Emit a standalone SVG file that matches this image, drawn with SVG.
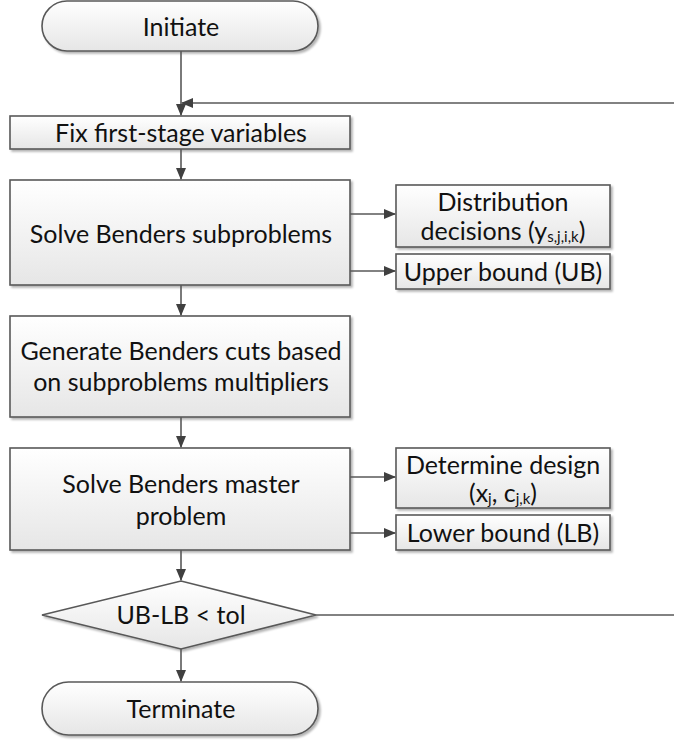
<svg xmlns="http://www.w3.org/2000/svg" width="674" height="752" viewBox="0 0 674 752">
<defs>
<linearGradient id="g" x1="0" y1="0" x2="0" y2="1">
<stop offset="0" stop-color="#ffffff"/>
<stop offset="1" stop-color="#e6e6e6"/>
</linearGradient>
<filter id="sh" x="-5%" y="-5%" width="115%" height="125%">
<feGaussianBlur in="SourceAlpha" stdDeviation="1.2"/>
<feOffset dx="2" dy="2" result="b"/>
<feComponentTransfer><feFuncA type="linear" slope="0.3"/></feComponentTransfer>
<feMerge><feMergeNode/><feMergeNode in="SourceGraphic"/></feMerge>
</filter>
<marker id="ah" markerWidth="12" markerHeight="10" refX="11" refY="5" orient="auto" markerUnits="userSpaceOnUse">
<path d="M0,0 L12,5 L0,10 Z" fill="#404040"/>
</marker>
</defs>
<style>
.box{fill:url(#g);stroke:#595959;stroke-width:1.6;filter:url(#sh)}
.t{font-family:Lato,"Open Sans","Liberation Sans",sans-serif;font-size:25px;fill:#111;text-anchor:middle;dominant-baseline:central}
.c{stroke:#595959;stroke-width:1.6;fill:none}
.s{font-size:15px}
</style>
<g id="initiate"><rect class="box" x="42" y="1" width="276" height="50" rx="25"/><text class="t" x="181" y="26">Initiate</text></g>
<g id="fix"><rect class="box" x="10" y="116" width="340" height="33"/><text class="t" x="181" y="132">Fix first-stage variables</text></g>
<g id="sub"><rect class="box" x="10" y="180" width="340" height="105"/><text class="t" x="181" y="233">Solve Benders subproblems</text></g>
<g id="dist"><rect class="box" x="396" y="185" width="214" height="62"/><text class="t" x="503" y="201">Distribution</text><text class="t" x="503" y="230">decisions (y<tspan class="s" dy="6">s,j,i,k</tspan><tspan dy="-6">)</tspan></text></g>
<g id="ub"><rect class="box" x="396" y="254" width="214" height="35"/><text class="t" x="503" y="271">Upper bound (UB)</text></g>
<g id="gen"><rect class="box" x="10" y="316" width="340" height="101"/><text class="t" x="181" y="350">Generate Benders cuts based</text><text class="t" x="181" y="381">on subproblems multipliers</text></g>
<g id="master"><rect class="box" x="10" y="448" width="340" height="102"/><text class="t" x="181" y="483">Solve Benders master</text><text class="t" x="181" y="515">problem</text></g>
<g id="design"><rect class="box" x="396" y="448" width="214" height="60"/><text class="t" x="503" y="464">Determine design</text><text class="t" x="503" y="492">(x<tspan class="s" dy="6">j</tspan><tspan dy="-6">, c</tspan><tspan class="s" dy="6">j,k</tspan><tspan dy="-6">)</tspan></text></g>
<g id="lb"><rect class="box" x="396" y="515" width="214" height="35"/><text class="t" x="503" y="532">Lower bound (LB)</text></g>
<g id="dec"><polygon class="box" points="42,615 181,581 316,615 181,649"/><text class="t" x="181" y="614">UB-LB &lt; tol</text></g>
<g id="term"><rect class="box" x="42" y="682" width="276" height="53" rx="26.5"/><text class="t" x="181" y="708">Terminate</text></g>
<g id="connectors">
<path class="c" d="M181,51 V115" marker-end="url(#ah)"/>
<path class="c" d="M674,103 H182" marker-end="url(#ah)"/>
<path class="c" d="M181,149 V179" marker-end="url(#ah)"/>
<path class="c" d="M350,214 H395" marker-end="url(#ah)"/>
<path class="c" d="M350,271 H395" marker-end="url(#ah)"/>
<path class="c" d="M181,285 V315" marker-end="url(#ah)"/>
<path class="c" d="M181,417 V447" marker-end="url(#ah)"/>
<path class="c" d="M350,477 H395" marker-end="url(#ah)"/>
<path class="c" d="M350,533 H395" marker-end="url(#ah)"/>
<path class="c" d="M181,550 V580" marker-end="url(#ah)"/>
<path class="c" d="M316,615 H674"/>
<path class="c" d="M181,649 V681" marker-end="url(#ah)"/>
</g>
</svg>
